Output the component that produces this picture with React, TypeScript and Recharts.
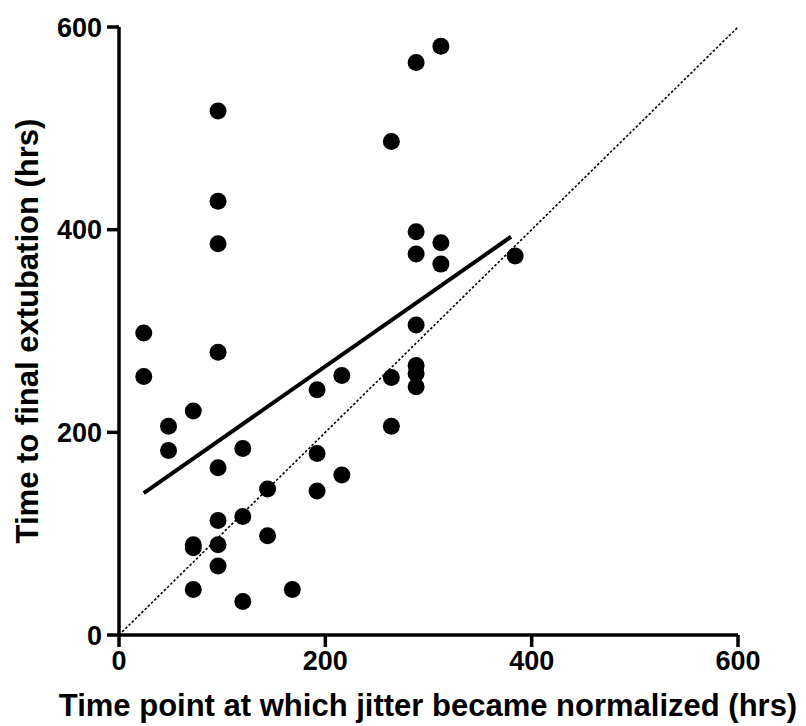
import React from "react";
import {
  ScatterChart,
  Scatter,
  XAxis,
  YAxis,
  ReferenceLine,
} from "recharts";

// hours until jitter normalized (x) vs. hours to final extubation (y)
const jitterHours = [
  24, 24,
  48, 48,
  72, 72, 72, 72,
  96, 96, 96, 96, 96, 96, 96, 96,
  120, 120, 120,
  144, 144,
  168,
  192, 192, 192,
  216, 216,
  264, 264, 264,
  288, 288, 288, 288, 288, 288, 288,
  312, 312, 312,
  384,
];
const extubationHours = [
  298, 255,
  206, 182,
  221, 89, 86, 45,
  517, 428, 386, 279, 165, 113, 89, 68,
  184, 117, 33,
  144, 98,
  45,
  242, 179, 142,
  256, 158,
  487, 254, 206,
  565, 398, 376, 306, 266, 258, 245,
  581, 387, 366,
  374,
];
const fitLine = [
  { x: 24, y: 140 },
  { x: 380, y: 393 },
];
const identityLine = [
  { x: 0, y: 0 },
  { x: 600, y: 600 },
];
const axisTicks = [0, 200, 400, 600];

const points = jitterHours.map((x, i) => ({ x, y: extubationHours[i] }));

const FONT = '"Liberation Sans", Arial, Helvetica, sans-serif';
const tickStyle = { fontSize: 27, fontWeight: 700, fill: "#000", fontFamily: FONT };
const titleStyle = { fontSize: 31, fontWeight: 700, fontFamily: FONT, fill: "#000" };
const axisStroke = { stroke: "#000", strokeWidth: 3.5 };

const Dot = (props: any) => <circle cx={props.cx} cy={props.cy} r={8.5} fill="#000" />;

export default function App() {
  return (
    <div style={{ position: "absolute", left: 0, top: 0, width: 806, height: 726, background: "#fff" }}>
      <ScatterChart width={806} height={726} margin={{ top: 27, right: 68, bottom: 11, left: 0 }}>
        <XAxis
          type="number"
          dataKey="x"
          domain={[0, 600]}
          ticks={axisTicks}
          allowDataOverflow
          height={80}
          axisLine={axisStroke}
          tickLine={axisStroke}
          tickSize={12}
          tickMargin={4}
          tick={tickStyle}
          label={() => (
            <text x={428} y={716} textAnchor="middle" style={titleStyle}>
              Time point at which jitter became normalized (hrs)
            </text>
          )}
        />
        <YAxis
          type="number"
          dataKey="y"
          domain={[0, 600]}
          ticks={axisTicks}
          allowDataOverflow
          width={119}
          axisLine={axisStroke}
          tickLine={axisStroke}
          tickSize={12}
          tickMargin={5}
          tick={tickStyle}
          label={() => (
            <text
              x={38}
              y={331}
              textAnchor="middle"
              transform="rotate(-90, 38, 331)"
              style={titleStyle}
            >
              Time to final extubation (hrs)
            </text>
          )}
        />
        <ReferenceLine
          segment={identityLine}
          stroke="#000"
          strokeWidth={1.6}
          strokeDasharray="2.5 2"
        />
        <ReferenceLine segment={fitLine} stroke="#000" strokeWidth={4} />
        <Scatter data={points} shape={Dot} isAnimationActive={false} />
      </ScatterChart>
    </div>
  );
}
